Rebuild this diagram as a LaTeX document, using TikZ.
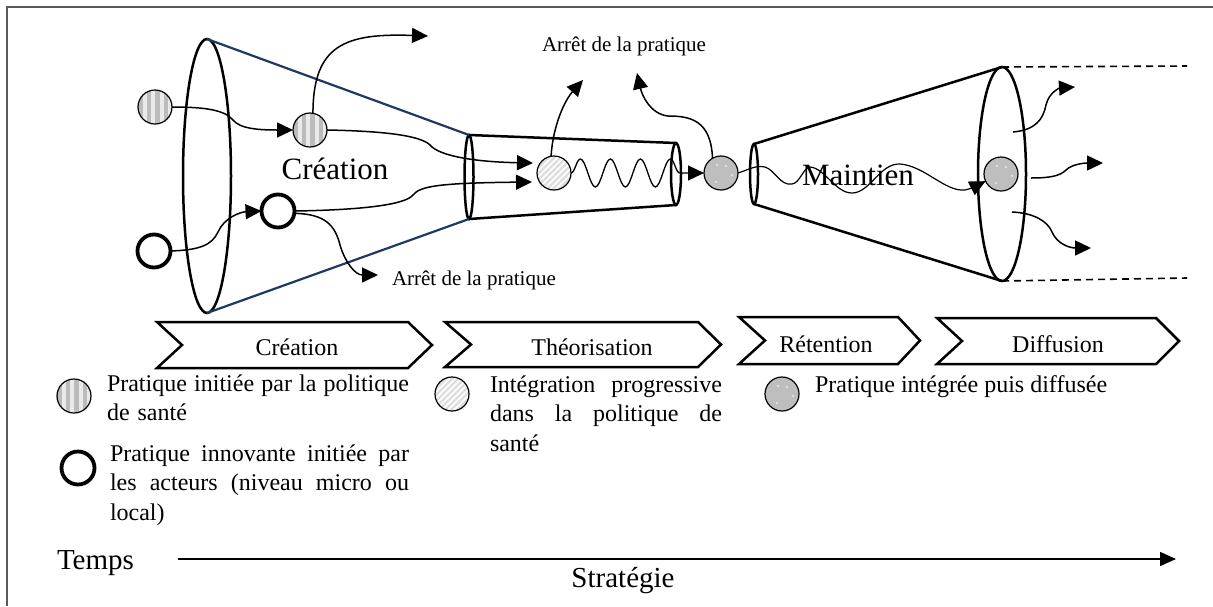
\documentclass[tikz,border=0pt]{standalone}
\usepackage{fontspec}
\setmainfont{Liberation Serif}
\usetikzlibrary{shapes.geometric, arrows.meta, decorations.pathmorphing}
\definecolor{navy}{RGB}{31,56,100}
\definecolor{stripebg}{RGB}{234,234,234}
\definecolor{stripefg}{RGB}{188,188,188}
\definecolor{hatchbg}{RGB}{222,222,222}
\definecolor{dotgray}{RGB}{190,190,190}
\definecolor{framegray}{RGB}{90,90,90}
\newcommand{\jline}[2]{\leavevmode\hbox to #1{#2}}
\begin{document}
\begin{tikzpicture}[x=1pt,y=-1pt,
  every node/.style={inner sep=0pt, outer sep=0pt},
  ell/.style={ellipse, draw, line width=2.5pt},
  thickline/.style={line width=2.5pt},
  blueline/.style={navy, line width=2.2pt},
  dashline/.style={dash pattern=on 7pt off 5pt, line width=1.6pt},
  arr/.style={line width=1.5pt, -{Triangle[length=16pt,width=15pt]}},
  thinc/.style={circle, draw, line width=1.2pt, minimum size=34pt},
  pol/.style={thinc, fill=stripebg, path picture={
     \foreach \k in {-2,...,1}{\fill[stripefg] ([xshift=\k*8.5pt+0.2pt,yshift=-20pt]path picture bounding box.center) rectangle ++(4.4pt,40pt);}}},
  hatch/.style={thinc, fill=hatchbg, path picture={
     \foreach \k in {-42,-36,...,42}{\draw[white, line width=1.5pt] ([xshift=\k*1pt]path picture bounding box.center) ++(-20pt,-20pt) -- ++(40pt,40pt);}}},
  integ/.style={thinc, fill=dotgray, path picture={
     \foreach \p in {(-4pt,8pt),(5pt,7pt),(-5pt,-9pt),(11pt,-2pt)}{\fill[white] ([shift={\p}]path picture bounding box.center) circle (0.9pt);}}},
  boldc/.style={circle, draw, line width=3.8pt, minimum size=33pt, fill=white},
  chev/.style={line width=2.5pt, line join=miter},
  stoplab/.style={font=\fontsize{21}{25}\selectfont},
  chevlab/.style={font=\fontsize{24}{28}\selectfont, anchor=base},
  biglab/.style={font=\fontsize{31}{35}\selectfont, anchor=base},
  axislab/.style={font=\fontsize{29}{33}\selectfont},
  legtext/.style={font=\fontsize{24}{29.5}\selectfont, anchor=base west, align=left},
]
\useasboundingbox (0,0) rectangle (1213,606);
% frame
\draw[framegray, line width=1.5pt] (7,606) -- (7,7) -- (1213,7);

% ellipses
\node[ell, minimum width=48pt, minimum height=274pt] (E1) at (207,176) {};
\node[ell, minimum width=9pt, minimum height=84pt] (E2) at (469,177) {};
\node[ell, minimum width=10pt, minimum height=62pt] (E3) at (676,174) {};
\node[ell, minimum width=8pt, minimum height=60pt] (E4) at (754,174) {};
\node[ell, minimum width=48pt, minimum height=214pt] (E5) at (1002,174) {};

\draw[blueline] (E1.north) -- (E2.north);
\draw[blueline] (E1.south) -- (E2.south);
\draw[thickline] (E2.north) -- (E3.north);
\draw[thickline] (E2.south) -- (E3.south);
\draw[thickline] (E4.north) -- (E5.north);
\draw[thickline] (E4.south) -- (E5.south);
\coordinate (d1) at (1187,66);
\coordinate (d2) at (1187,278);
\draw[dashline] (E5.north) -- (d1);
\draw[dashline] (E5.south) -- (d2);

% labels in the cones
\node[biglab] (crea) at (335,179) {Création};
\node[biglab] (maint) at (858,185) {Maintien};

% practices
\node[pol] (S1) at (155,107) {};
\node[pol] (S2) at (310,130) {};
\node[boldc] (O1) at (154,251) {};
\node[boldc] (O2) at (278,211) {};
\node[hatch] (H) at (554,173) {};
\node[integ] (G1) at (721,173) {};
\node[integ] (G2) at (1001,174) {};

% stop labels
\node[stoplab, anchor=base] (stopA) at (624,51) {Arrêt de la pratique};
\node[stoplab, anchor=base west] (stopB) at (392,285) {Arrêt de la pratique};
\coordinate (up1) at (428,36);
\coordinate (up2) at (583,80);
\coordinate (up3) at (637,73);
\coordinate (down1) at (378,275);

% connectors, left part
\draw[arr] (S1.east) .. controls (205,107) and (225,110) .. (233,120) .. controls (240,129) and (260,130) .. (S2.west);
\draw[arr] (S2.80) .. controls (313,45) and (345,33) .. (up1);
\draw[arr] (S2.east) .. controls (380,131) and (420,135) .. (430,145) .. controls (440,157) and (480,162) .. ([xshift=-4pt,yshift=10pt]H.west);
\draw[arr] (O2.east) .. controls (360,210) and (405,205) .. (413,195) .. controls (420,186) and (440,183) .. ([xshift=-5pt,yshift=-9pt]H.west);
\draw[arr] (O2.-8) .. controls (325,214) and (335,225) .. (340,245) .. controls (345,262) and (355,275) .. (down1);
\draw[arr] (O1.east) .. controls (200,250) and (212,245) .. (218,232) .. controls (224,218) and (240,212) .. (O2.west);

% middle
\draw[line width=1.3pt, decorate, decoration={snake, amplitude=14pt, segment length=30pt, post length=20pt}, -{Triangle[length=16pt,width=15pt]}] (H.east) -- (G1.west);
\draw[arr] (H.100) .. controls (553,125) and (565,100) .. (up2);
\draw[arr] (G1.120) .. controls (711,120) and (690,116) .. (668,116) .. controls (650,114) and (642,95) .. (up3);
\draw[arr, line width=1.2pt] (G1.east) .. controls (748,170) and (755,165) .. (765,167) .. controls (775,170) and (780,186) .. (792,184) .. controls (800,183) and (803,168) .. (810,167) .. controls (825,168) and (835,193) .. (852,193) .. controls (870,193) and (880,163) .. (900,164) .. controls (925,166) and (945,192) .. (965,190) .. controls (970,189) and (976,186) .. (G2.205);

% diffusion fan
\coordinate (f1s) at (1013,132);
\coordinate (f1e) at (1075,87);
\coordinate (f2s) at (1031,178);
\coordinate (f2e) at (1103,163);
\coordinate (f3s) at (1012,212);
\coordinate (f3e) at (1091,248);
\draw[arr] (f1s) .. controls (1035,130) and (1043,120) .. (1046,105) .. controls (1049,92) and (1060,88) .. (f1e);
\draw[arr] (f2s) .. controls (1050,178) and (1060,176) .. (1066,170) .. controls (1072,164) and (1085,163) .. (f2e);
\draw[arr] (f3s) .. controls (1035,213) and (1048,222) .. (1052,232) .. controls (1057,244) and (1070,248) .. (f3e);

% chevrons
\draw[chev] (157,322) -- (408,322) -- (432,345) -- (408,368) -- (157,368) -- (182,345) -- cycle;
\draw[chev] (445,322) -- (698,322) -- (721,344.5) -- (698,367) -- (445,367) -- (471,344.5) -- cycle;
\draw[chev] (739,317) -- (898,317) -- (920,340.5) -- (898,364) -- (739,364) -- (765,340.5) -- cycle;
\draw[chev] (937,318) -- (1156,318) -- (1179,341) -- (1156,364) -- (937,364) -- (962,341) -- cycle;
\node[chevlab] (ch1) at (297,355) {Création};
\node[chevlab] (ch2) at (592,355) {Théorisation};
\node[chevlab] (ch3) at (826,352) {Rétention};
\node[chevlab] (ch4) at (1058,352) {Diffusion};

% legend
\node[pol] (LS) at (74,396) {};
\node[boldc] (LO) at (78,468) {};
\node[hatch] (LH) at (452,394) {};
\node[integ] (LG) at (782,394) {};
\node[legtext, text width=302pt] (T1) at (107,391) {\jline{302pt}{Pratique\hfill initiée\hfill par\hfill la\hfill politique}\\de santé};
\node[legtext, text width=299pt] (T2) at (110,461) {\jline{299pt}{Pratique\hfill innovante\hfill initiée\hfill par}\\\jline{299pt}{les\hfill acteurs\hfill (niveau\hfill micro\hfill ou}\\local)};
\node[legtext, text width=232pt] (T3) at (490,392) {\jline{232pt}{Intégration\hfill progressive}\\\jline{232pt}{dans\hfill la\hfill politique\hfill de}\\santé};
\node[legtext] (T4) at (815,392) {Pratique intégrée puis diffusée};

% time axis
\node[axislab, anchor=base west] (temps) at (57,569) {Temps};
\node[axislab, anchor=base] (strat) at (623,587) {Stratégie};
\coordinate (t0) at (178,559);
\coordinate (t1) at (1176,559);
\draw[line width=1.5pt, -{Triangle[length=16pt,width=14pt]}] (t0) -- (t1);
\end{tikzpicture}
\end{document}
